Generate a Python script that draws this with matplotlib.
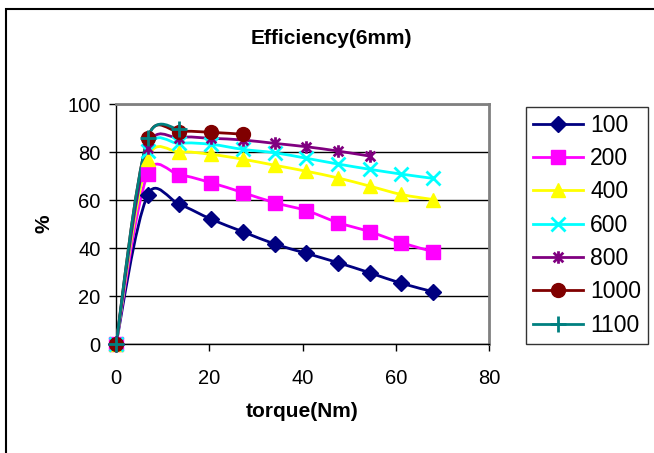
import numpy as np
import matplotlib
matplotlib.use("Agg")
import matplotlib.pyplot as plt
from matplotlib.path import Path
from matplotlib.patches import PathPatch, Rectangle
from matplotlib.lines import Line2D

plt.rcParams['font.family'] = ['Liberation Sans', 'DejaVu Sans']

torque = [0, 6.8, 13.6, 20.4, 27.2, 34, 40.8, 47.6, 54.4, 61.2, 68]
eff_100 = [0, 62.1, 58.2, 52.0, 46.8, 41.7, 37.8, 33.9, 29.7, 25.3, 21.8]
eff_200 = [0, 71.0, 70.5, 67.2, 63.1, 58.9, 55.6, 50.6, 46.8, 42.2, 38.5]
eff_400 = [0, 77.0, 80.0, 79.0, 77.0, 74.5, 72.0, 69.2, 65.8, 62.3, 60.2]
eff_600 = [0, 80.5, 83.6, 83.2, 81.1, 79.7, 77.4, 75.0, 72.8, 70.8, 69.0]
eff_800 = [0, 81.5, 86.0, 85.7, 85.0, 83.6, 82.2, 80.4, 78.3]
eff_1000 = [0, 85.7, 88.5, 88.2, 87.4]
eff_1100 = [0, 85.7, 89.4]
labels = ['100', '200', '400', '600', '800', '1000', '1100']

series = [eff_100, eff_200, eff_400, eff_600, eff_800, eff_1000, eff_1100]
colors = ['#000080', '#FF00FF', '#FFFF00', '#00FFFF', '#800080', '#800000', '#008080']

# excel-like asterisk: an X with a vertical bar
star = Path([(-1, -1), (1, 1), (-1, 1), (1, -1), (0, -1.3), (0, 1.3)],
            [Path.MOVETO, Path.LINETO, Path.MOVETO, Path.LINETO, Path.MOVETO, Path.LINETO])
markers = ['D', 's', '^', 'x', star, 'o', '+']
msizes = [8, 10, 10, 10, 9, 10, 12]

# rough px per data unit, used to weight the smoothing like excel does on screen
SX, SY = 4.66, 2.4


def smooth_path(x, y):
    p = np.column_stack([x, y]).astype(float)
    n = len(p)
    q = p * [SX, SY]
    d = np.hypot(*np.diff(q, axis=0).T)
    tang = []
    for i in range(n):
        a = p[i - 1] if i > 0 else p[i]
        b = p[i + 1] if i < n - 1 else p[i]
        tang.append(b - a)
    verts = [p[0]]
    codes = [Path.MOVETO]
    for i in range(n - 1):
        dl = d[i - 1] if i > 0 else d[i]
        dr = d[i + 1] if i + 1 < n - 1 else d[i]
        k1 = 0.65 / 6 + 0.35 * d[i] / (dl + d[i]) / 3
        k2 = 0.65 / 6 + 0.35 * d[i] / (d[i] + dr) / 3
        c1 = p[i] + tang[i] * k1
        c2 = p[i + 1] - tang[i + 1] * k2
        verts += [c1, c2, p[i + 1]]
        codes += [Path.CURVE4] * 3
    return Path(verts, codes)


fig = plt.figure(figsize=(6.54, 4.53), dpi=100)
ax = fig.add_axes([0.1774, 0.2406, 0.5703, 0.5298])

handles = []
for s, c, m, ms, lab in zip(series, colors, markers, msizes, labels):
    xs = torque[:len(s)]
    ax.add_patch(PathPatch(smooth_path(xs, s), fill=False, edgecolor=c, lw=2, zorder=3))
    mew = 2 if m in ('x', '+') or m is star else 1
    ax.plot(xs, s, linestyle='none', marker=m, ms=ms, color=c, mec=c, mew=mew, zorder=4, clip_on=False)
    handles.append(Line2D([], [], color=c, lw=2, marker=m, ms=ms, mec=c, mew=mew, label=lab))

ax.set_xlim(0, 80)
ax.set_ylim(0, 100)
ax.set_xticks([0, 20, 40, 60, 80])
ax.set_yticks([0, 20, 40, 60, 80, 100])
ax.yaxis.grid(True, color='black', lw=1)
ax.set_axisbelow(True)
for side in ['top', 'right']:
    ax.spines[side].set_color('#808080')
    ax.spines[side].set_linewidth(2)
for side in ['left', 'bottom']:
    ax.spines[side].set_linewidth(1)
ax.tick_params(direction='out', length=5, width=1, labelsize=14.5, pad=6)
ax.tick_params(axis='x', pad=13)

ax.set_xlabel('torque(Nm)', fontsize=15, fontweight='bold', labelpad=10)
ax.set_ylabel('%', fontsize=15, fontweight='bold', labelpad=10)
fig.text(0.506, 0.916, 'Efficiency(6mm)', fontsize=15, fontweight='bold', ha='center', va='center')

leg = fig.legend(handles=handles, loc='upper left', bbox_to_anchor=(526 / 654, 1 - 107 / 453),
                 fontsize=16.5, frameon=True, fancybox=False, edgecolor='black',
                 borderpad=0.3, labelspacing=0.45, handlelength=2.2, handletextpad=0.3,
                 borderaxespad=0)
leg.get_frame().set_linewidth(1)

fig.patches.append(Rectangle((6 / 654, -0.1), 1.1, 1 - 9 / 453 + 0.1, transform=fig.transFigure,
                             fill=False, edgecolor='black', lw=1.5))

fig.savefig('out.png', dpi=100)
